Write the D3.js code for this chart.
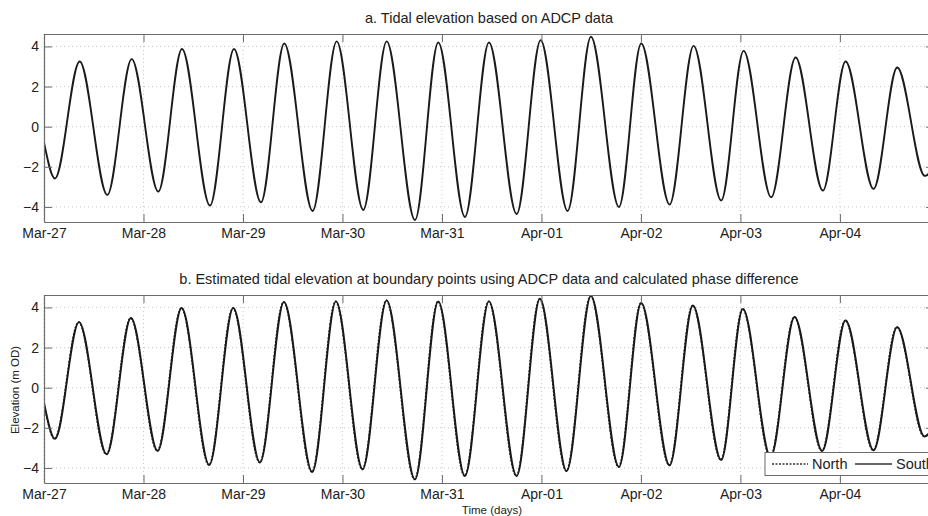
<!DOCTYPE html>
<html><head><meta charset="utf-8">
<script src="https://cdn.jsdelivr.net/npm/d3@7"></script>
<style>
body{margin:0;background:#fff}
text{font-family:"Liberation Sans",Arial,sans-serif}
</style>
</head><body>
<svg id="c" width="928" height="516"></svg>
<script>
// ---- data (hours since Mar-27 00:00, elevation m OD at tide extrema) ----
const startDate = "2013-03-27T00:00:00";
const xTickLabels = ["Mar-27","Mar-28","Mar-29","Mar-30","Mar-31","Apr-01","Apr-02","Apr-03","Apr-04"];
const yTickValues = [-4,-2,0,2,4];
const titleA = "a. Tidal elevation based on ADCP data";
const titleB = "b. Estimated tidal elevation at boundary points using ADCP data and calculated phase difference";
const legendLabels = ["North","South"];

const hoursA = [0,2.65,8.6,15.27,21.15,27.57,33.29,40.04,45.83,52.34,57.96,64.81,70.60,77.02,82.66,89.49,95.11,101.55,107.34,114.02,119.81,126.32,131.94,138.70,144.07,150.92,156.71,163.37,168.77,175.43,181.31,187.90,193.37,200.13,205.82,212.5,215.5];
const elevA  = [-0.78,-2.58,3.25,-3.4,3.37,-3.23,3.87,-3.93,3.87,-3.77,4.15,-4.2,4.25,-4.15,4.25,-4.65,4.2,-4.5,4.2,-4.35,4.31,-4.2,4.48,-4.0,4.15,-3.88,4.03,-3.68,3.78,-3.52,3.45,-3.18,3.25,-3.1,2.95,-2.45,-1.7];

const hoursSouth = [0,2.65,8.44,15.12,20.98,27.42,33.21,39.87,45.66,52.10,57.89,64.71,70.43,76.87,82.66,89.49,95.11,101.55,107.34,114.02,119.64,126.08,131.94,138.70,144.07,150.92,156.54,163.37,168.60,175.28,181.07,187.73,193.37,200.13,205.82,212.4,215.5];
const elevSouth  = [-0.75,-2.55,3.27,-3.32,3.47,-3.15,3.97,-3.85,3.97,-3.73,4.27,-4.2,4.3,-4.07,4.35,-4.57,4.3,-4.4,4.3,-4.4,4.43,-4.15,4.57,-3.95,4.22,-3.87,4.1,-3.6,3.93,-3.45,3.52,-3.15,3.35,-3.12,3.02,-2.43,-1.6];

const hoursNorth = [0,2.55,8.34,15.02,20.88,27.32,33.11,39.77,45.56,52.00,57.79,64.61,70.33,76.77,82.56,89.39,95.01,101.45,107.24,113.92,119.54,125.98,131.84,138.60,143.97,150.82,156.44,163.27,168.50,175.18,180.97,187.63,193.27,200.03,205.72,212.3,215.5];
const elevNorth  = [-0.78,-2.55,3.27,-3.32,3.47,-3.15,3.97,-3.85,3.97,-3.73,4.27,-4.2,4.3,-4.07,4.35,-4.57,4.3,-4.4,4.3,-4.4,4.43,-4.15,4.57,-3.95,4.22,-3.87,4.1,-3.6,3.93,-3.45,3.52,-3.15,3.35,-3.12,3.02,-2.43,-1.5];

// ---- drawing ----
const svg = d3.select("#c");
const t0 = new Date(startDate);
const toDate = h => new Date(t0.getTime() + h * 3600e3);
const left = 44, right = 934;
const x = d3.scaleTime().domain([t0, toDate(214.7)]).range([left, right]);
const dayTicks = xTickLabels.map((_, i) => toDate(24 * i));

const axisCol = "#6b6b6b", gridCol = "#c8c8c8", textCol = "#222";

function panel(top, bottom, title, series, id, showXLabel) {
  const y = d3.scaleLinear().domain([-4.75, 4.62]).range([bottom, top]);
  const g = svg.append("g");
  // grid
  g.append("g").selectAll("line.gx").data(dayTicks).join("line")
    .attr("x1", d => x(d)).attr("x2", d => x(d)).attr("y1", top).attr("y2", bottom)
    .attr("stroke", gridCol).attr("stroke-width", 1).attr("stroke-dasharray", "1,3");
  g.append("g").selectAll("line.gy").data(yTickValues).join("line")
    .attr("x1", left).attr("x2", right).attr("y1", d => y(d)).attr("y2", d => y(d))
    .attr("stroke", gridCol).attr("stroke-width", 1).attr("stroke-dasharray", "1,3");
  // clip
  svg.append("clipPath").attr("id", id).append("rect")
    .attr("x", left).attr("y", top).attr("width", right - left).attr("height", bottom - top);
  const line = d3.line().x(d => x(toDate(d[0]))).y(d => y(d[1])).curve(d3.curveMonotoneX);
  series.forEach(s => {
    g.append("path").datum(s.hours.map((h, i) => [h, s.elev[i]]))
      .attr("clip-path", `url(#${id})`)
      .attr("fill", "none").attr("stroke", s.color).attr("stroke-width", s.width)
      .attr("stroke-dasharray", s.dash || null).attr("d", line);
  });
  // axes
  const ax = (axis, tr) => {
    const a = g.append("g").attr("transform", tr).call(axis);
    a.selectAll("path,line").attr("stroke", axisCol);
    a.selectAll("text").attr("fill", textCol).style("font-size", "14px");
    return a;
  };
  ax(d3.axisBottom(x).tickValues(dayTicks).tickFormat((d, i) => xTickLabels[i])
      .tickSizeInner(-8).tickSizeOuter(0).tickPadding(6), `translate(0,${bottom})`);
  ax(d3.axisTop(x).tickValues(dayTicks).tickFormat("").tickSizeInner(-8).tickSizeOuter(0),
     `translate(0,${top})`);
  ax(d3.axisLeft(y).tickValues(yTickValues).tickFormat(d3.format("d"))
      .tickSizeInner(-8).tickSizeOuter(0).tickPadding(5), `translate(${left},0)`);
  ax(d3.axisRight(y).tickValues(yTickValues).tickFormat("").tickSizeInner(-8).tickSizeOuter(0),
     `translate(${right},0)`);
  g.selectAll(".domain").attr("stroke", axisCol).attr("stroke-width", 1.2);
  // title
  g.append("text").attr("x", (left + right) / 2).attr("y", top - 11)
    .attr("text-anchor", "middle").attr("fill", textCol).style("font-size", "14.5px").text(title);
  return y;
}

panel(34, 222, titleA, [{hours: hoursA, elev: elevA, color: "#1a1a1a", width: 1.9}], "clipA");
panel(295, 483, titleB, [
  {hours: hoursSouth, elev: elevSouth, color: "#1a1a1a", width: 1.9},
  {hours: hoursNorth, elev: elevNorth, color: "#1a1a1a", width: 1.6, dash: "2,1.5"}
], "clipB");

// axis labels
svg.append("text").attr("x", 492).attr("y", 514).attr("text-anchor", "middle")
  .attr("fill", textCol).style("font-size", "11.5px").text("Time (days)");
svg.append("text").attr("transform", "translate(19,390) rotate(-90)").attr("text-anchor", "middle")
  .attr("fill", textCol).style("font-size", "11.5px").text("Elevation (m OD)");

// legend
const lg = svg.append("g");
lg.append("rect").attr("x", 765).attr("y", 452.5).attr("width", 167).attr("height", 23)
  .attr("fill", "#fff").attr("stroke", axisCol).attr("stroke-width", 1);
const legItems = [
  {label: legendLabels[0], x1: 772, x2: 808, dash: "2,1.5", w: 1.3},
  {label: legendLabels[1], x1: 855, x2: 892, dash: null, w: 1.3}
];
legItems.forEach(it => {
  lg.append("line").attr("x1", it.x1).attr("x2", it.x2).attr("y1", 464).attr("y2", 464)
    .attr("stroke", "#333").attr("stroke-width", it.w).attr("stroke-dasharray", it.dash);
  lg.append("text").attr("x", it.x2 + 4).attr("y", 469).attr("fill", textCol)
    .style("font-size", "14.5px").text(it.label);
});
</script>
</body></html>
